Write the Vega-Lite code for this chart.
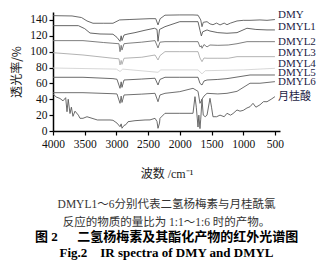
{
  "$schema": "https://vega.github.io/schema/vega-lite/v6.json",
  "width": 227,
  "height": 119,
  "autosize": {"type": "none"},
  "padding": {"left": 53, "top": 12, "right": 56, "bottom": 129},
  "background": "white",
  "config": {
    "view": {"stroke": null},
    "axis": {"grid": false, "domainColor": "#000", "domainWidth": 1.5, "tickColor": "#000", "tickWidth": 1.2, "tickSize": 4, "labelFont": "Liberation Serif", "labelFontSize": 11.5, "labelColor": "#111", "labelOverlap": false, "titleFont": "Liberation Serif, Noto Sans CJK SC", "titleFontWeight": "normal", "titleColor": "#222"}
  },
  "title": {
    "text": ["DMYL1～6分别代表二氢杨梅素与月桂酰氯", "反应的物质的量比为 1:1～1:6 时的产物。"],
    "subtitle": ["图 2\u2002\u2002\u2002二氢杨梅素及其酯化产物的红外光谱图", "Fig.2\u2002\u2002IR spectra of DMY and DMYL"],
    "orient": "bottom",
    "anchor": "middle",
    "font": "Liberation Serif, Noto Sans CJK SC",
    "fontSize": 11.5,
    "fontWeight": "normal",
    "color": "#333",
    "lineHeight": 18,
    "subtitleFont": "Liberation Serif, Noto Sans CJK SC",
    "subtitleFontSize": 13,
    "subtitleFontWeight": "bold",
    "subtitleColor": "#000",
    "subtitleLineHeight": 16.5,
    "subtitlePadding": 2.5,
    "offset": 19
  },
  "datasets": {
    "spectra": [
      {"s": "DMY", "w": 4000, "v": 145.4}, {"s": "DMY", "w": 3700, "v": 145}, {"s": "DMY", "w": 3550, "v": 143}, {"s": "DMY", "w": 3464, "v": 138.7}, {"s": "DMY", "w": 3369, "v": 135.8}, {"s": "DMY", "w": 3200, "v": 135.8}, {"s": "DMY", "w": 3054, "v": 135.8}, {"s": "DMY", "w": 2950, "v": 140}, {"s": "DMY", "w": 2800, "v": 140.5}, {"s": "DMY", "w": 2470, "v": 141.6}, {"s": "DMY", "w": 2380, "v": 141.6}, {"s": "DMY", "w": 2344, "v": 133.7}, {"s": "DMY", "w": 2310, "v": 141.6}, {"s": "DMY", "w": 2234, "v": 146}, {"s": "DMY", "w": 2000, "v": 146.3}, {"s": "DMY", "w": 1792, "v": 146.3}, {"s": "DMY", "w": 1713, "v": 146}, {"s": "DMY", "w": 1670, "v": 140}, {"s": "DMY", "w": 1650, "v": 131.5}, {"s": "DMY", "w": 1630, "v": 137}, {"s": "DMY", "w": 1571, "v": 137.8}, {"s": "DMY", "w": 1524, "v": 135}, {"s": "DMY", "w": 1477, "v": 134}, {"s": "DMY", "w": 1420, "v": 136}, {"s": "DMY", "w": 1366, "v": 133.7}, {"s": "DMY", "w": 1300, "v": 136}, {"s": "DMY", "w": 1256, "v": 134}, {"s": "DMY", "w": 1200, "v": 136}, {"s": "DMY", "w": 1098, "v": 138.7}, {"s": "DMY", "w": 1000, "v": 139.5}, {"s": "DMY", "w": 893, "v": 139.5}, {"s": "DMY", "w": 736, "v": 140}, {"s": "DMY", "w": 625, "v": 139.5}, {"s": "DMY", "w": 500, "v": 140.5},

      {"s": "DMYL1", "w": 4000, "v": 132.8}, {"s": "DMYL1", "w": 3600, "v": 132.8}, {"s": "DMYL1", "w": 3500, "v": 129}, {"s": "DMYL1", "w": 3416, "v": 123.5}, {"s": "DMYL1", "w": 3259, "v": 122.3}, {"s": "DMYL1", "w": 3054, "v": 122}, {"s": "DMYL1", "w": 2991, "v": 118}, {"s": "DMYL1", "w": 2943, "v": 113}, {"s": "DMYL1", "w": 2925, "v": 120}, {"s": "DMYL1", "w": 2912, "v": 114}, {"s": "DMYL1", "w": 2880, "v": 121}, {"s": "DMYL1", "w": 2817, "v": 122.3}, {"s": "DMYL1", "w": 2707, "v": 124}, {"s": "DMYL1", "w": 2549, "v": 127}, {"s": "DMYL1", "w": 2400, "v": 129.5}, {"s": "DMYL1", "w": 2360, "v": 128}, {"s": "DMYL1", "w": 2344, "v": 113}, {"s": "DMYL1", "w": 2320, "v": 128}, {"s": "DMYL1", "w": 2234, "v": 131.5}, {"s": "DMYL1", "w": 2000, "v": 137.8}, {"s": "DMYL1", "w": 1713, "v": 137.8}, {"s": "DMYL1", "w": 1682, "v": 127}, {"s": "DMYL1", "w": 1660, "v": 119.8}, {"s": "DMYL1", "w": 1640, "v": 125}, {"s": "DMYL1", "w": 1571, "v": 127.4}, {"s": "DMYL1", "w": 1524, "v": 126}, {"s": "DMYL1", "w": 1400, "v": 124}, {"s": "DMYL1", "w": 1256, "v": 123.2}, {"s": "DMYL1", "w": 1098, "v": 124}, {"s": "DMYL1", "w": 941, "v": 129.5}, {"s": "DMYL1", "w": 800, "v": 128}, {"s": "DMYL1", "w": 625, "v": 127.4}, {"s": "DMYL1", "w": 500, "v": 127.4},

      {"s": "DMYL2", "w": 4000, "v": 113.9}, {"s": "DMYL2", "w": 3527, "v": 113.9}, {"s": "DMYL2", "w": 3200, "v": 111.5}, {"s": "DMYL2", "w": 3054, "v": 110.6}, {"s": "DMYL2", "w": 2960, "v": 110}, {"s": "DMYL2", "w": 2943, "v": 100}, {"s": "DMYL2", "w": 2925, "v": 108}, {"s": "DMYL2", "w": 2912, "v": 102}, {"s": "DMYL2", "w": 2880, "v": 110}, {"s": "DMYL2", "w": 2817, "v": 110.6}, {"s": "DMYL2", "w": 2600, "v": 112}, {"s": "DMYL2", "w": 2391, "v": 113.9}, {"s": "DMYL2", "w": 2344, "v": 104.7}, {"s": "DMYL2", "w": 2313, "v": 112}, {"s": "DMYL2", "w": 2234, "v": 112.6}, {"s": "DMYL2", "w": 2000, "v": 112.6}, {"s": "DMYL2", "w": 1713, "v": 112.6}, {"s": "DMYL2", "w": 1682, "v": 106}, {"s": "DMYL2", "w": 1660, "v": 107.5}, {"s": "DMYL2", "w": 1650, "v": 104.3}, {"s": "DMYL2", "w": 1619, "v": 109}, {"s": "DMYL2", "w": 1571, "v": 106}, {"s": "DMYL2", "w": 1524, "v": 108.4}, {"s": "DMYL2", "w": 1400, "v": 108}, {"s": "DMYL2", "w": 1237, "v": 108.4}, {"s": "DMYL2", "w": 1098, "v": 110}, {"s": "DMYL2", "w": 941, "v": 112.6}, {"s": "DMYL2", "w": 736, "v": 112.6}, {"s": "DMYL2", "w": 500, "v": 112.6},

      {"s": "DMYL3", "w": 4000, "v": 98.7}, {"s": "DMYL3", "w": 3527, "v": 95.8}, {"s": "DMYL3", "w": 3054, "v": 91.7}, {"s": "DMYL3", "w": 2960, "v": 91}, {"s": "DMYL3", "w": 2943, "v": 83.2}, {"s": "DMYL3", "w": 2925, "v": 89}, {"s": "DMYL3", "w": 2912, "v": 84}, {"s": "DMYL3", "w": 2880, "v": 91.7}, {"s": "DMYL3", "w": 2600, "v": 93}, {"s": "DMYL3", "w": 2391, "v": 95.8}, {"s": "DMYL3", "w": 2344, "v": 89.5}, {"s": "DMYL3", "w": 2313, "v": 95}, {"s": "DMYL3", "w": 2234, "v": 100}, {"s": "DMYL3", "w": 2000, "v": 100}, {"s": "DMYL3", "w": 1713, "v": 100}, {"s": "DMYL3", "w": 1682, "v": 92}, {"s": "DMYL3", "w": 1650, "v": 87.4}, {"s": "DMYL3", "w": 1619, "v": 92}, {"s": "DMYL3", "w": 1571, "v": 91.7}, {"s": "DMYL3", "w": 1400, "v": 91.7}, {"s": "DMYL3", "w": 1237, "v": 91.7}, {"s": "DMYL3", "w": 1098, "v": 93.7}, {"s": "DMYL3", "w": 893, "v": 93.7}, {"s": "DMYL3", "w": 500, "v": 93.7},

      {"s": "DMYL4", "w": 4000, "v": 79.4}, {"s": "DMYL4", "w": 3000, "v": 78}, {"s": "DMYL4", "w": 2943, "v": 75}, {"s": "DMYL4", "w": 2900, "v": 78}, {"s": "DMYL4", "w": 2344, "v": 74}, {"s": "DMYL4", "w": 2300, "v": 77}, {"s": "DMYL4", "w": 2000, "v": 77}, {"s": "DMYL4", "w": 1713, "v": 77}, {"s": "DMYL4", "w": 1650, "v": 72}, {"s": "DMYL4", "w": 1600, "v": 76}, {"s": "DMYL4", "w": 1000, "v": 77}, {"s": "DMYL4", "w": 500, "v": 79},

      {"s": "DMYL5", "w": 4000, "v": 67.7}, {"s": "DMYL5", "w": 3527, "v": 67.7}, {"s": "DMYL5", "w": 3054, "v": 66}, {"s": "DMYL5", "w": 2991, "v": 65.2}, {"s": "DMYL5", "w": 2943, "v": 53.8}, {"s": "DMYL5", "w": 2925, "v": 62}, {"s": "DMYL5", "w": 2912, "v": 55}, {"s": "DMYL5", "w": 2880, "v": 64.3}, {"s": "DMYL5", "w": 2600, "v": 65.5}, {"s": "DMYL5", "w": 2391, "v": 66.5}, {"s": "DMYL5", "w": 2344, "v": 58}, {"s": "DMYL5", "w": 2313, "v": 65}, {"s": "DMYL5", "w": 2234, "v": 67.7}, {"s": "DMYL5", "w": 2000, "v": 67.7}, {"s": "DMYL5", "w": 1713, "v": 67.7}, {"s": "DMYL5", "w": 1682, "v": 60}, {"s": "DMYL5", "w": 1650, "v": 58}, {"s": "DMYL5", "w": 1619, "v": 63}, {"s": "DMYL5", "w": 1571, "v": 64.3}, {"s": "DMYL5", "w": 1400, "v": 65}, {"s": "DMYL5", "w": 1256, "v": 66}, {"s": "DMYL5", "w": 1098, "v": 68}, {"s": "DMYL5", "w": 893, "v": 70.6}, {"s": "DMYL5", "w": 500, "v": 70.6},

      {"s": "DMYL6", "w": 4000, "v": 48.3}, {"s": "DMYL6", "w": 3527, "v": 48.3}, {"s": "DMYL6", "w": 3054, "v": 47}, {"s": "DMYL6", "w": 2991, "v": 46.7}, {"s": "DMYL6", "w": 2943, "v": 34.9}, {"s": "DMYL6", "w": 2925, "v": 44}, {"s": "DMYL6", "w": 2912, "v": 36}, {"s": "DMYL6", "w": 2880, "v": 45.4}, {"s": "DMYL6", "w": 2600, "v": 46.5}, {"s": "DMYL6", "w": 2391, "v": 47.5}, {"s": "DMYL6", "w": 2344, "v": 36.9}, {"s": "DMYL6", "w": 2313, "v": 45.4}, {"s": "DMYL6", "w": 2234, "v": 47.5}, {"s": "DMYL6", "w": 2000, "v": 49.6}, {"s": "DMYL6", "w": 1792, "v": 53.8}, {"s": "DMYL6", "w": 1713, "v": 50}, {"s": "DMYL6", "w": 1682, "v": 34.9}, {"s": "DMYL6", "w": 1650, "v": 40}, {"s": "DMYL6", "w": 1619, "v": 44}, {"s": "DMYL6", "w": 1571, "v": 47.5}, {"s": "DMYL6", "w": 1400, "v": 46.7}, {"s": "DMYL6", "w": 1256, "v": 47.5}, {"s": "DMYL6", "w": 1098, "v": 50}, {"s": "DMYL6", "w": 893, "v": 60.2}, {"s": "DMYL6", "w": 736, "v": 60.2}, {"s": "DMYL6", "w": 500, "v": 62.2},

      {"s": "月桂酸", "w": 4000, "v": 46.7}, {"s": "月桂酸", "w": 3950, "v": 42.9}, {"s": "月桂酸", "w": 3890, "v": 41}, {"s": "月桂酸", "w": 3842, "v": 38}, {"s": "月桂酸", "w": 3800, "v": 42}, {"s": "月桂酸", "w": 3779, "v": 24.3}, {"s": "月桂酸", "w": 3760, "v": 40}, {"s": "月桂酸", "w": 3732, "v": 22}, {"s": "月桂酸", "w": 3710, "v": 30}, {"s": "月桂酸", "w": 3685, "v": 18.5}, {"s": "月桂酸", "w": 3653, "v": 25}, {"s": "月桂酸", "w": 3600, "v": 20}, {"s": "月桂酸", "w": 3574, "v": 16}, {"s": "月桂酸", "w": 3527, "v": 16}, {"s": "月桂酸", "w": 3464, "v": 18}, {"s": "月桂酸", "w": 3300, "v": 13.9}, {"s": "月桂酸", "w": 3101, "v": 13.9}, {"s": "月桂酸", "w": 3054, "v": 13.5}, {"s": "月桂酸", "w": 2991, "v": 10}, {"s": "月桂酸", "w": 2943, "v": 5.4}, {"s": "月桂酸", "w": 2925, "v": 9}, {"s": "月桂酸", "w": 2912, "v": 3.5}, {"s": "月桂酸", "w": 2880, "v": 7}, {"s": "月桂酸", "w": 2850, "v": 8}, {"s": "月桂酸", "w": 2817, "v": 11.7}, {"s": "月桂酸", "w": 2707, "v": 13}, {"s": "月桂酸", "w": 2549, "v": 13.9}, {"s": "月桂酸", "w": 2470, "v": 14}, {"s": "月桂酸", "w": 2391, "v": 16}, {"s": "月桂酸", "w": 2360, "v": 12}, {"s": "月桂酸", "w": 2344, "v": 3.4}, {"s": "月桂酸", "w": 2320, "v": 10}, {"s": "月桂酸", "w": 2313, "v": 16}, {"s": "月桂酸", "w": 2234, "v": 22.3}, {"s": "月桂酸", "w": 2000, "v": 22.3}, {"s": "月桂酸", "w": 1792, "v": 22.3}, {"s": "月桂酸", "w": 1761, "v": 43.3}, {"s": "月桂酸", "w": 1740, "v": 30}, {"s": "月桂酸", "w": 1713, "v": 5}, {"s": "月桂酸", "w": 1700, "v": 20}, {"s": "月桂酸", "w": 1682, "v": 3}, {"s": "月桂酸", "w": 1670, "v": 15}, {"s": "月桂酸", "w": 1650, "v": 40}, {"s": "月桂酸", "w": 1630, "v": 20}, {"s": "月桂酸", "w": 1600, "v": 18}, {"s": "月桂酸", "w": 1571, "v": 20}, {"s": "月桂酸", "w": 1524, "v": 41.2}, {"s": "月桂酸", "w": 1500, "v": 30}, {"s": "月桂酸", "w": 1477, "v": 18}, {"s": "月桂酸", "w": 1420, "v": 18}, {"s": "月桂酸", "w": 1366, "v": 20}, {"s": "月桂酸", "w": 1300, "v": 18}, {"s": "月桂酸", "w": 1256, "v": 22.3}, {"s": "月桂酸", "w": 1200, "v": 20}, {"s": "月桂酸", "w": 1161, "v": 22}, {"s": "月桂酸", "w": 1098, "v": 26.5}, {"s": "月桂酸", "w": 1051, "v": 25}, {"s": "月桂酸", "w": 1000, "v": 26}, {"s": "月桂酸", "w": 941, "v": 29}, {"s": "月桂酸", "w": 893, "v": 30.6}, {"s": "月桂酸", "w": 846, "v": 34.9}, {"s": "月桂酸", "w": 800, "v": 30}, {"s": "月桂酸", "w": 736, "v": 33}, {"s": "月桂酸", "w": 680, "v": 37}, {"s": "月桂酸", "w": 625, "v": 36.9}, {"s": "月桂酸", "w": 560, "v": 40}, {"s": "月桂酸", "w": 500, "v": 43.3}
    ],
    "labels": [
      {"s": "DMY", "w": 452, "v": 146},
      {"s": "DMYL1", "w": 452, "v": 131.5},
      {"s": "DMYL2", "w": 452, "v": 112.6},
      {"s": "DMYL3", "w": 452, "v": 98},
      {"s": "DMYL4", "w": 452, "v": 84.5},
      {"s": "DMYL5", "w": 452, "v": 72.8},
      {"s": "DMYL6", "w": 452, "v": 61.5},
      {"s": "月桂酸", "w": 452, "v": 43.3}
    ]
  },
  "encoding": {
    "x": {"field": "w", "type": "quantitative", "scale": {"domain": [420, 4000], "reverse": true, "nice": false, "zero": false},
          "axis": {"values": [4000, 3500, 3000, 2500, 2000, 1500, 1000, 500], "format": "d", "title": "波数 /cm⁻¹", "titleFontSize": 12, "titlePadding": 19, "labelPadding": 3, "labelFlush": false, "labelOverlap": false, "labelBound": false}},
    "y": {"field": "v", "type": "quantitative", "scale": {"domain": [0, 150], "nice": false, "zero": false},
          "axis": {"values": [0, 20, 40, 60, 80, 100, 120, 140], "title": "透光率/%", "titleFont": "Noto Sans CJK SC", "titleFontSize": 12, "titlePadding": 6, "labelPadding": 2, "labelOverlap": false, "labelBound": false}}
  },
  "layer": [
    {
      "data": {"name": "spectra"},
      "mark": {"type": "line", "strokeWidth": 0.9, "clip": false},
      "encoding": {
        "color": {"field": "s", "type": "nominal", "legend": null,
                  "scale": {"domain": ["DMY", "DMYL1", "DMYL2", "DMYL3", "DMYL4", "DMYL5", "DMYL6", "月桂酸"],
                            "range": ["#5a5a5a", "#555555", "#707070", "#aaaaaa", "#d2d2d2", "#5a5a5a", "#606060", "#5a5a5a"]}},
        "detail": {"field": "s"}
      }
    },
    {
      "data": {"name": "labels"},
      "mark": {"type": "text", "align": "left", "baseline": "middle", "font": "Liberation Serif, Noto Sans CJK SC", "fontSize": 11, "color": "#1c1c44"},
      "encoding": {
        "text": {"field": "s"}
      }
    }
  ]
}
